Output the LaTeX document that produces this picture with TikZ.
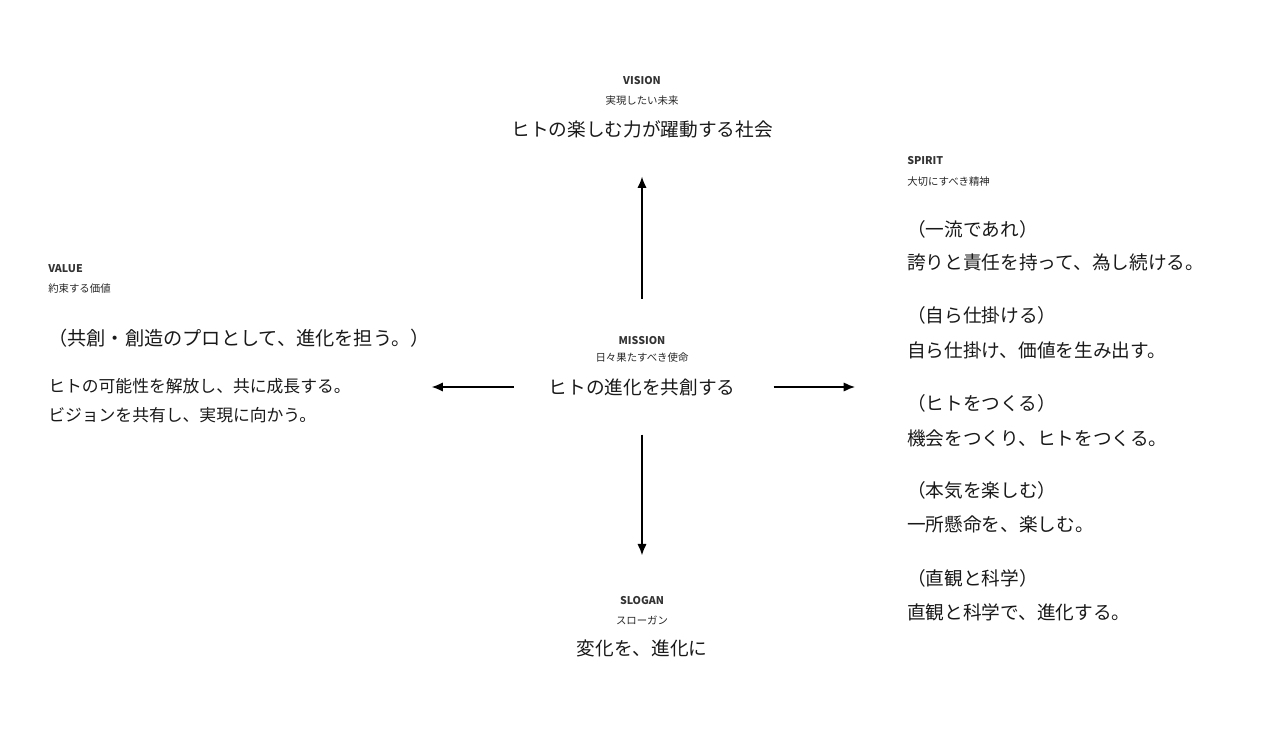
\documentclass[tikz,border=0pt]{standalone}
\usepackage{fontspec}
\setmainfont{Noto Sans CJK JP}
\usetikzlibrary{arrows.meta}
\tikzset{
  lbl/.style={inner sep=0pt, font=\fontsize{8}{9}\selectfont\bfseries, text=black!80},
  sub/.style={inner sep=0pt, font=\fontsize{7.8}{9}\selectfont, text=black!85},
  big/.style={inner sep=0pt, font=\fontsize{14}{16}\selectfont, text=black!90},
  body/.style={inner sep=0pt, font=\fontsize{12.6}{15}\selectfont, text=black!90},
  arr/.style={-{Latex[length=8.5pt,width=7pt]}, line width=1.1pt, black}
}
\begin{document}
\begin{tikzpicture}[x=0.75pt,y=-0.75pt]
    \useasboundingbox (0,0) rectangle (1285,731);
    % Vision
    \node[lbl] (vision-lbl) at (642,81) {VISION};
    \node[sub] (vision-sub) at (642,101) {実現したい未来};
    \node[big] (vision) at (642,129) {ヒトの楽しむ力が躍動する社会};
    % Mission
    \node[lbl] (mission-lbl) at (642,341) {MISSION};
    \node[sub] (mission-sub) at (642,358) {日々果たすべき使命};
    \node[big] (mission) at (642,387) {ヒトの進化を共創する};
    % Slogan
    \node[lbl] (slogan-lbl) at (642,601) {SLOGAN};
    \node[sub] (slogan-sub) at (642,620) {スローガン};
    \node[big] (slogan) at (642,648) {変化を、進化に};
    % Value
    \node[lbl, anchor=west] (value-lbl) at (48,269) {VALUE};
    \node[sub, anchor=west] (value-sub) at (48,289) {約束する価値};
    \node[big, anchor=west, font=\fontsize{14.4}{16}\selectfont] (value-head) at (48,338) {（共創・創造のプロとして、進化を担う。）};
    \node[body, anchor=west] (value-a) at (48,386) {ヒトの可能性を解放し、共に成長する。};
    \node[body, anchor=west] (value-b) at (48,415) {ビジョンを共有し、実現に向かう。};
    % Spirit
    \node[lbl, anchor=west] (spirit-lbl) at (907,161) {SPIRIT};
    \node[sub, anchor=west] (spirit-sub) at (907,182) {大切にすべき精神};
    \node[big, anchor=west] (spirit1-h) at (907,229) {（一流であれ）};
    \node[big, anchor=west] (spirit1) at (907,262) {誇りと責任を持って、為し続ける。};
    \node[big, anchor=west] (spirit2-h) at (907,315) {（自ら仕掛ける）};
    \node[big, anchor=west] (spirit2) at (907,350) {自ら仕掛け、価値を生み出す。};
    \node[big, anchor=west] (spirit3-h) at (907,403) {（ヒトをつくる）};
    \node[big, anchor=west] (spirit3) at (907,438) {機会をつくり、ヒトをつくる。};
    \node[big, anchor=west] (spirit4-h) at (907,490) {（本気を楽しむ）};
    \node[big, anchor=west] (spirit4) at (907,524) {一所懸命を、楽しむ。};
    \node[big, anchor=west] (spirit5-h) at (907,578) {（直観と科学）};
    \node[big, anchor=west] (spirit5) at (907,612) {直観と科学で、進化する。};
    % Flechas
    \draw[arr, shorten <=28.5pt, shorten >=29pt] (mission-lbl.north) -- (vision.south);
    \draw[arr, shorten <=29pt, shorten >=31pt] (mission.south) -- (slogan-lbl.north);
    \draw[arr, shorten <=28.5pt, shorten >=39pt] (mission.east) -- (mission.east -| spirit3.west);
    \draw[arr, shorten <=26pt, shorten >=60.5pt] (mission.west) -- (mission.west -| value-a.east);
\end{tikzpicture}
\end{document}
